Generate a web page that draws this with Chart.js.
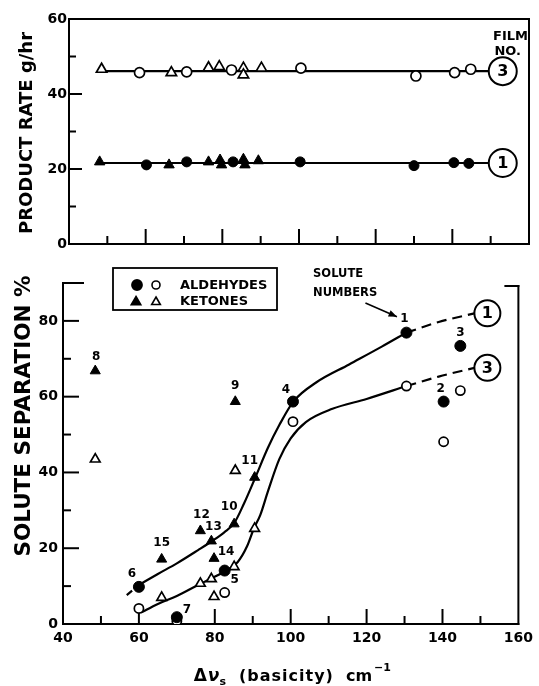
<!DOCTYPE html>
<html><head><meta charset="utf-8">
<script src="https://cdn.jsdelivr.net/npm/chart.js@4.4.0/dist/chart.umd.min.js"></script>
<style>
html,body{margin:0;padding:0;background:#fff;width:539px;height:686px;overflow:hidden;}
#topChart{position:absolute;left:0;top:0;}
#botChart{position:absolute;left:0;top:260px;}
</style>
</head><body>
<canvas id="topChart" width="539" height="260"></canvas>
<canvas id="botChart" width="539" height="426"></canvas>
<script>
// ---------- DATA ----------
// Top panel: product rate (g/hr) against basicity, film 1 (filled) and film 3 (open)
const rateAldX1 = [60.2, 70.7, 82.8, 100.3, 130.0, 140.4, 144.3];
const rateAldY1 = [21.1, 21.9, 21.9, 21.9, 20.9, 21.7, 21.5];
const rateKetX1 = [48.0, 66.1, 76.4, 79.4, 79.8, 85.5, 85.9, 89.4];
const rateKetY1 = [21.9, 21.1, 21.9, 22.4, 21.1, 22.6, 21.1, 22.2];
const rateAldX3 = [58.4, 70.7, 82.4, 100.5, 130.5, 140.6, 144.8];
const rateAldY3 = [45.7, 45.9, 46.4, 46.9, 44.8, 45.7, 46.6];
const rateKetX3 = [48.5, 66.7, 76.4, 79.2, 85.5, 85.5, 90.2];
const rateKetY3 = [46.6, 45.7, 47.0, 47.3, 46.9, 45.1, 46.9];
const rateLineX = [48.0, 149.5];          // extent of the mean-rate lines
const rateLevel1 = [21.6, 21.6];          // film 1
const rateLevel3 = [46.1, 46.1];          // film 3
const filmNumbers = ['1', '3'];

// Bottom panel: solute separation (%) against basicity
const soluteNo       = [1, 2, 3, 4, 5, 6, 7, 8, 9, 10, 11, 12, 13, 14, 15];
const soluteClass    = ['A','A','A','A','A','A','A','K','K','K','K','K','K','K','K'];
const soluteBasicity = [130.5, 140.3, 144.7, 100.6, 82.6, 60.0, 70.0, 48.5, 85.4, 85.1, 90.5, 76.2, 79.1, 79.8, 66.0];
const sepFilm1       = [76.9, 58.7, 73.4, 58.7, 14.1, 9.8, 1.8, 66.8, 58.7, 26.4, 38.7, 24.6, 21.9, 17.3, 17.1];
const sepFilm3       = [62.8, 48.1, 61.6, 53.4, 8.3, 4.1, 0.8, 43.5, 40.5, 15.1, 25.2, 10.7, 11.9, 7.2, 7.0];

// Hand-drawn correlation curves
const curve1X = [60, 65, 70, 75.6, 79.3, 82.5, 85.1, 87.7, 90.7, 94, 97, 100.7, 106.8, 115.4, 124, 130.5];
const curve1Y = [10.3, 13.2, 16, 19.5, 21.9, 24.2, 26.6, 31.8, 38.7, 46.5, 52.5, 58.7, 63.8, 68.5, 73.2, 76.9];
const curve1LeadX = [56.8, 60];
const curve1LeadY = [7.6, 10.3];
const curve1TailX = [130.5, 139, 148.4];
const curve1TailY = [76.9, 79.7, 82.0];
const curve3X = [60.5, 65, 70, 75.6, 79, 82.5, 86, 88.5, 90.3, 92, 94, 97, 100, 104, 111, 120, 130.5];
const curve3Y = [3.0, 5.3, 7.4, 10.3, 12.0, 13.8, 16.3, 20.5, 25.2, 28.8, 35.0, 43.5, 49.0, 53.3, 56.8, 59.4, 62.8];
const curve3TailX = [130.5, 139, 148.4];
const curve3TailY = [62.8, 65.3, 67.6];

// ---------- HELPERS ----------
const pts = (xs, ys) => xs.map((x, i) => ({ x, y: ys[i] }));
const sel = (xs, ys, cls) => pts(xs, ys).filter((_, i) => soluteClass[i] === cls);
const FONT = '"DejaVu Sans", sans-serif';
Chart.defaults.font.family = FONT;
Chart.defaults.color = '#000';

function seg(ctx, x1, y1, x2, y2) { ctx.beginPath(); ctx.moveTo(x1, y1); ctx.lineTo(x2, y2); ctx.stroke(); }
function circled(ctx, cx, cy, r, txt, size) {
  ctx.save();
  ctx.beginPath(); ctx.arc(cx, cy, r, 0, Math.PI * 2);
  ctx.fillStyle = '#fff'; ctx.fill();
  ctx.lineWidth = 2; ctx.strokeStyle = '#000'; ctx.stroke();
  ctx.fillStyle = '#000'; ctx.font = `bold ${size}px ${FONT}`;
  ctx.textAlign = 'center'; ctx.textBaseline = 'middle';
  ctx.fillText(txt, cx, cy + 1);
  ctx.restore();
}
function vtitle(ctx, txt, cx, cy, size) {
  ctx.save(); ctx.translate(cx, cy); ctx.rotate(-Math.PI / 2);
  ctx.font = `bold ${size}px ${FONT}`; ctx.fillStyle = '#000';
  ctx.textAlign = 'center'; ctx.textBaseline = 'middle';
  ctx.fillText(txt, 0, 0); ctx.restore();
}
const filled = (style, r) => ({ pointStyle: style, pointRadius: r, backgroundColor: '#000', borderColor: '#000', borderWidth: 1, showLine: false });
const open = (style, r) => ({ pointStyle: style, pointRadius: r, backgroundColor: '#fff', borderColor: '#000', borderWidth: 1.7, showLine: false });
const lineDs = (data, dash) => ({ type: 'line', data, borderColor: '#000', borderWidth: 2.2, pointRadius: 0, fill: false,
  cubicInterpolationMode: 'monotone', borderDash: dash || [], order: 10 });

// ---------- TOP CHART ----------
const topDecor = {
  id: 'topDecor',
  beforeDatasetsDraw(chart) {
    const { ctx, chartArea: a, scales: { x, y } } = chart;
    ctx.save(); ctx.strokeStyle = '#000'; ctx.lineWidth = 2; ctx.lineCap = 'square';
    seg(ctx, a.left, a.top, a.left, a.bottom);
    seg(ctx, a.left, a.bottom, a.right, a.bottom);
    seg(ctx, a.right, a.top, a.right, a.bottom);
    seg(ctx, a.left, a.top, a.right, a.top);
    ctx.lineCap = 'butt';
    for (let v = 50; v <= 150; v += 10) {
      const px = x.getPixelForValue(v), L = (v % 20 === 0) ? 15 : 8;
      seg(ctx, px, a.bottom, px, a.bottom - L);
    }
    for (let v = 10; v <= 50; v += 10) {
      const py = y.getPixelForValue(v), L = (v % 20 === 0) ? 13 : 7;
      seg(ctx, a.left, py, a.left + L, py);
    }
    ctx.restore();
  },
  afterDraw(chart) {
    const { ctx, chartArea: a, scales: { x, y } } = chart;
    const r = 14;
    const endPx = x.getPixelForValue(rateLineX[1]);
    circled(ctx, endPx + r, y.getPixelForValue(rateLevel3[1]), r, filmNumbers[1], 16);
    circled(ctx, endPx + r, y.getPixelForValue(rateLevel1[1]), r, filmNumbers[0], 16);
    ctx.save(); ctx.fillStyle = '#000'; ctx.font = `bold 13px ${FONT}`;
    ctx.textAlign = 'right'; ctx.textBaseline = 'middle';
    ctx.fillText('FILM', a.right - 1, 37);
    ctx.fillText('NO.', a.right - 8, 52);
    ctx.restore();
    vtitle(ctx, 'PRODUCT RATE g/hr', 27, 133, 18);
  }
};

new Chart(document.getElementById('topChart'), {
  type: 'scatter',
  data: { datasets: [
    Object.assign({ label: 'Aldehydes, film 1', data: pts(rateAldX1, rateAldY1) }, filled('circle', 5)),
    Object.assign({ label: 'Ketones, film 1', data: pts(rateKetX1, rateKetY1) }, filled('triangle', 6)),
    Object.assign({ label: 'Aldehydes, film 3', data: pts(rateAldX3, rateAldY3) }, open('circle', 5)),
    Object.assign({ label: 'Ketones, film 3', data: pts(rateKetX3, rateKetY3) }, open('triangle', 6)),
    Object.assign({ label: 'Film 1 mean' }, lineDs(pts(rateLineX, rateLevel1))),
    Object.assign({ label: 'Film 3 mean' }, lineDs(pts(rateLineX, rateLevel3)))
  ]},
  options: {
    responsive: false, animation: false, devicePixelRatio: 1,
    layout: { padding: { left: 0, right: 10, top: 19, bottom: 0 } },
    plugins: { legend: { display: false }, tooltip: { enabled: false } },
    scales: {
      x: { type: 'linear', min: 40, max: 160, ticks: { display: false }, grid: { display: false, drawTicks: false },
           border: { display: false }, afterFit(s) { s.height = 16; } },
      y: { type: 'linear', min: 0, max: 60, ticks: { stepSize: 20, padding: 2, font: { size: 14, weight: 'bold' } },
           grid: { display: false, drawTicks: false }, border: { display: false }, afterFit(s) { s.width = 69; } }
    }
  },
  plugins: [topDecor]
});

// ---------- BOTTOM CHART ----------
const labelOffset = { 1:[-2,-14], 2:[-3,-13], 3:[0,-13], 4:[-7,-12], 5:[10,9], 6:[-7,-13], 7:[10,-7], 8:[1,-14],
  9:[0,-16], 10:[-5,-17], 11:[-5,-16], 12:[1,-16], 13:[2,-14], 14:[12,-7], 15:[0,-16] };

const botDecor = {
  id: 'botDecor',
  beforeDatasetsDraw(chart) {
    const { ctx, chartArea: a, scales: { x, y } } = chart;
    ctx.save(); ctx.strokeStyle = '#000'; ctx.lineWidth = 2; ctx.lineCap = 'square';
    seg(ctx, a.left, a.top, a.left, a.bottom);
    seg(ctx, a.left, a.bottom, a.right, a.bottom);
    seg(ctx, a.right, a.top + 3, a.right, a.bottom);
    seg(ctx, a.left, a.top, a.left + 20, a.top);
    seg(ctx, a.right - 13, a.top + 3, a.right, a.top + 3);
    ctx.lineCap = 'butt';
    for (let v = 50; v <= 150; v += 10) {
      const px = x.getPixelForValue(v), L = (v % 20 === 0) ? 15 : 8;
      seg(ctx, px, a.bottom, px, a.bottom - L);
    }
    for (let v = 10; v <= 80; v += 10) {
      const py = y.getPixelForValue(v), L = (v % 20 === 0) ? 16 : 8;
      seg(ctx, a.left, py, a.left + L, py);
    }
    ctx.restore();
  },
  afterDraw(chart) {
    const { ctx, chartArea: a, scales: { x, y } } = chart;
    ctx.save();
    ctx.fillStyle = '#000'; ctx.strokeStyle = '#000';
    // solute numbers
    ctx.font = `bold 12px ${FONT}`; ctx.textAlign = 'center'; ctx.textBaseline = 'middle';
    soluteNo.forEach((n, i) => {
      const o = labelOffset[n];
      ctx.fillText(String(n), x.getPixelForValue(soluteBasicity[i]) + o[0], y.getPixelForValue(sepFilm1[i]) + o[1]);
    });
    // film number circles at the end of the curves
    const r = 13;
    circled(ctx, x.getPixelForValue(curve1TailX[2]) + r, y.getPixelForValue(curve1TailY[2]), r, filmNumbers[0], 16);
    circled(ctx, x.getPixelForValue(curve3TailX[2]) + r, y.getPixelForValue(curve3TailY[2]), r, filmNumbers[1], 16);
    // "SOLUTE NUMBERS" annotation
    ctx.font = `bold 11.5px ${FONT}`; ctx.textAlign = 'left';
    ctx.fillText('SOLUTE', x.getPixelForValue(105.9), y.getPixelForValue(92.5));
    ctx.fillText('NUMBERS', x.getPixelForValue(105.9), y.getPixelForValue(87.3));
    const x0 = x.getPixelForValue(119.7), y0 = y.getPixelForValue(84.7);
    const x1 = x.getPixelForValue(128.0), y1 = y.getPixelForValue(81.1);
    ctx.lineWidth = 1.6; seg(ctx, x0, y0, x1, y1);
    const ang = Math.atan2(y1 - y0, x1 - x0);
    ctx.beginPath(); ctx.moveTo(x1, y1);
    ctx.lineTo(x1 - 9 * Math.cos(ang - 0.38), y1 - 9 * Math.sin(ang - 0.38));
    ctx.lineTo(x1 - 9 * Math.cos(ang + 0.38), y1 - 9 * Math.sin(ang + 0.38));
    ctx.closePath(); ctx.fill();
    // legend box
    const bx = a.left + 50, by = a.top - 15, bw = 164, bh = 42;
    ctx.fillStyle = '#fff'; ctx.fillRect(bx, by, bw, bh);
    ctx.lineWidth = 1.8; ctx.strokeRect(bx, by, bw, bh);
    ctx.fillStyle = '#000';
    const r1 = by + 17, r2 = by + 33;
    Chart.helpers.drawPoint(ctx, { pointStyle: 'circle', radius: 5, borderWidth: 1 }, bx + 24, r1);
    ctx.fill();
    ctx.lineWidth = 1.6; ctx.fillStyle = '#fff';
    Chart.helpers.drawPoint(ctx, { pointStyle: 'circle', radius: 4, borderWidth: 1.6 }, bx + 43, r1);
    ctx.fillStyle = '#000';
    Chart.helpers.drawPoint(ctx, { pointStyle: 'triangle', radius: 5.5, borderWidth: 1 }, bx + 23, r2 + 1);
    ctx.fillStyle = '#fff';
    Chart.helpers.drawPoint(ctx, { pointStyle: 'triangle', radius: 5, borderWidth: 1.6 }, bx + 43, r2 + 1);
    ctx.fillStyle = '#000'; ctx.font = `bold 13px ${FONT}`; ctx.textAlign = 'left'; ctx.textBaseline = 'middle';
    ctx.fillText('ALDEHYDES', bx + 67, r1 + 1);
    ctx.fillText('KETONES', bx + 67, r2 + 1);
    // x axis title: Δν_s (basicity) cm^-1
    const cx = (a.left + a.right) / 2, base = 421;
    let tx = cx - 97;
    ctx.textBaseline = 'alphabetic'; ctx.textAlign = 'left';
    ctx.font = `bold 17px ${FONT}`; ctx.fillText('Δ', tx, base); tx += ctx.measureText('Δ').width + 1;
    ctx.font = `bold italic 17px ${FONT}`; ctx.fillText('ν', tx, base); tx += ctx.measureText('ν').width;
    ctx.font = `bold 11px ${FONT}`; ctx.fillText('s', tx, base + 4); tx += ctx.measureText('s').width + 13;
    ctx.font = `bold 16px ${FONT}`;
    ctx.letterSpacing = '1px';
    ctx.fillText('(basicity)', tx, base); tx += ctx.measureText('(basicity)').width + 12;
    ctx.letterSpacing = '0px';
    ctx.fillText('cm', tx, base); tx += ctx.measureText('cm').width + 2;
    ctx.font = `bold 11px ${FONT}`; ctx.fillText('−1', tx, base - 10);
    ctx.restore();
    vtitle(ctx, 'SOLUTE SEPARATION %', 24, 156, 21.5);
  }
};

new Chart(document.getElementById('botChart'), {
  type: 'scatter',
  data: { datasets: [
    Object.assign({ label: 'Aldehydes, film 1', data: sel(soluteBasicity, sepFilm1, 'A') }, filled('circle', 5.5)),
    Object.assign({ label: 'Ketones, film 1', data: sel(soluteBasicity, sepFilm1, 'K') }, filled('triangle', 5.8)),
    Object.assign({ label: 'Aldehydes, film 3', data: sel(soluteBasicity, sepFilm3, 'A') }, open('circle', 4.6)),
    Object.assign({ label: 'Ketones, film 3', data: sel(soluteBasicity, sepFilm3, 'K') }, open('triangle', 5.6)),
    Object.assign({ label: 'Film 1 curve' }, lineDs(pts(curve1X, curve1Y))),
    Object.assign({ label: 'Film 1 lead' }, lineDs(pts(curve1LeadX, curve1LeadY), [7, 4])),
    Object.assign({ label: 'Film 1 extrapolated' }, lineDs(pts(curve1TailX, curve1TailY), [10, 6])),
    Object.assign({ label: 'Film 3 curve' }, lineDs(pts(curve3X, curve3Y))),
    Object.assign({ label: 'Film 3 extrapolated' }, lineDs(pts(curve3TailX, curve3TailY), [10, 6]))
  ]},
  options: {
    responsive: false, animation: false, devicePixelRatio: 1,
    layout: { padding: { left: 0, right: 14, top: 23, bottom: 0 } },
    plugins: { legend: { display: false }, tooltip: { enabled: false } },
    scales: {
      x: { type: 'linear', min: 40, max: 160, ticks: { stepSize: 20, padding: 6, maxRotation: 0, font: { size: 14, weight: 'bold' } },
           grid: { display: false, drawTicks: false }, border: { display: false }, afterFit(s) { s.height = 62; } },
      y: { type: 'linear', min: 0, max: 90, ticks: { stepSize: 20, padding: 5, font: { size: 14, weight: 'bold' },
             callback: v => (v % 20 === 0 ? v : '') },
           grid: { display: false, drawTicks: false }, border: { display: false }, afterFit(s) { s.width = 63; } }
    }
  },
  plugins: [botDecor]
});
</script>
</body></html>
